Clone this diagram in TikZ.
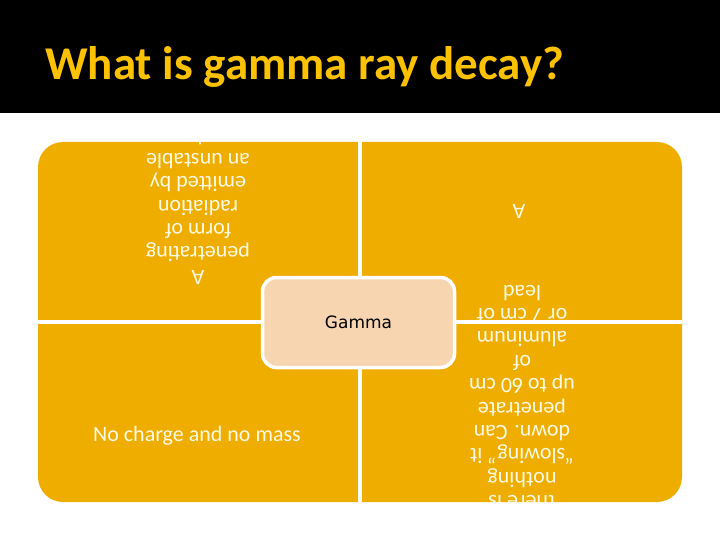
\documentclass[tikz,border=0pt]{standalone}
\usepackage{fontspec}
\setmainfont{Carlito}
\newfontfamily\boxfont{DejaVu Sans}
\definecolor{quadorange}{RGB}{239,173,0}
\definecolor{boxbeige}{RGB}{247,213,176}
\definecolor{titlegold}{RGB}{252,194,0}
\definecolor{cream}{RGB}{255,250,228}

\begin{document}
\begin{tikzpicture}[x=1pt,y=1pt,
  quadtext/.style={text=cream,align=center,inner sep=0pt,font=\fontsize{22}{23.4}\selectfont},
  flipped/.style={quadtext,rotate=180}]
\useasboundingbox (0,0) rectangle (720,-540);
% header band
\fill [black] (0,0) rectangle (720,-113);
\node [anchor=base west,inner sep=0pt,text=titlegold,font=\fontsize{47}{50}\selectfont\bfseries] (title) at (45,-80) {What is gamma ray decay?};
% matrix background
\fill [quadorange,rounded corners=25pt] (38,-142) rectangle (682,-502);
% quadrant texts, they run over the edges
\begin{scope}
\clip [rounded corners=25pt] (38,-142) rectangle (682,-502);
\node [flipped] (topleft) at (198,-207) {A\\penetrating\\form of\\radiation\\emitted by\\an unstable\\nucleus.};
\node [flipped] (topright) at (519,-212) {A};
\node [quadtext] (bottomleft) at (197,-436) {No charge and no mass};
\node [flipped] (bottomright) at (522,-398) {there is\\nothing\\“slowing” it\\down. Can\\penetrate\\up to 60 cm\\of\\aluminum\\or 7 cm of\\lead};
\end{scope}
% dividers
\draw [white,line width=4pt] (360,-142) -- (360,-502);
\draw [white,line width=4pt] (38,-322) -- (682,-322);
% centre box
\node [draw=white,line width=3.5pt,fill=boxbeige,rounded corners=14pt,minimum width=192pt,minimum height=90pt,font=\boxfont\fontsize{17}{20}\selectfont] (gamma) at (358.5,-322.5) {Gamma};
\end{tikzpicture}
\end{document}
